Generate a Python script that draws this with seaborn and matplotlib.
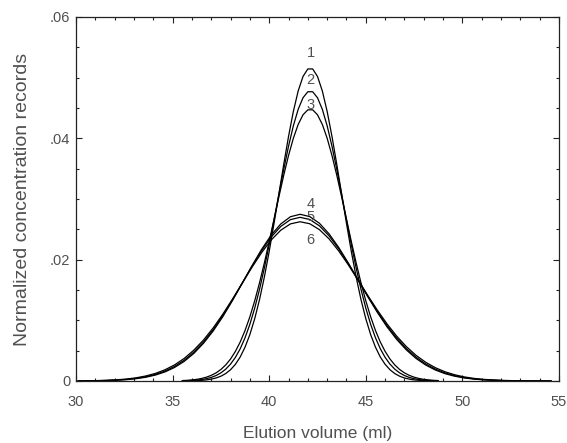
import matplotlib
matplotlib.use("Agg")
import matplotlib.pyplot as plt
from matplotlib.ticker import MultipleLocator, FixedLocator, FixedFormatter
import seaborn as sns
import pandas as pd

# ---------------- data ----------------
x_narrow = [35.5, 35.75, 36.0, 36.25, 36.5, 36.75, 37.0, 37.25, 37.5, 37.75,
            38.0, 38.25, 38.5, 38.75, 39.0, 39.25, 39.5, 39.75, 40.0, 40.25,
            40.5, 40.75, 41.0, 41.25, 41.5, 41.75, 42.0, 42.25, 42.5, 42.75,
            43.0, 43.25, 43.5, 43.75, 44.0, 44.25, 44.5, 44.75, 45.0, 45.25,
            45.5, 45.75, 46.0, 46.25, 46.5, 46.75, 47.0, 47.25, 47.5, 47.75,
            48.0, 48.25, 48.5, 48.75]

curve1 = [0.00001, 0.00002, 0.00003, 0.00006, 0.00011, 0.00018, 0.00031, 0.00050, 0.00079, 0.00123,
          0.00186, 0.00275, 0.00396, 0.00558, 0.00766, 0.01027, 0.01343, 0.01715, 0.02136, 0.02597,
          0.03081, 0.03567, 0.04030, 0.04443, 0.04781, 0.05020, 0.05144, 0.05144, 0.05020, 0.04781,
          0.04443, 0.04030, 0.03567, 0.03081, 0.02597, 0.02136, 0.01715, 0.01343, 0.01027, 0.00766,
          0.00558, 0.00396, 0.00275, 0.00186, 0.00123, 0.00079, 0.00050, 0.00031, 0.00018, 0.00011,
          0.00006, 0.00003, 0.00002, 0.00001]

curve2 = [0.00003, 0.00005, 0.00009, 0.00015, 0.00024, 0.00038, 0.00059, 0.00090, 0.00134, 0.00195,
          0.00279, 0.00389, 0.00532, 0.00713, 0.00935, 0.01202, 0.01512, 0.01863, 0.02248, 0.02657,
          0.03075, 0.03485, 0.03869, 0.04206, 0.04478, 0.04669, 0.04768, 0.04768, 0.04669, 0.04478,
          0.04206, 0.03869, 0.03485, 0.03075, 0.02657, 0.02248, 0.01863, 0.01512, 0.01202, 0.00935,
          0.00713, 0.00532, 0.00389, 0.00279, 0.00195, 0.00134, 0.00090, 0.00059, 0.00038, 0.00024,
          0.00015, 0.00009, 0.00005, 0.00003]

curve3 = [0.00007, 0.00011, 0.00018, 0.00027, 0.00042, 0.00063, 0.00093, 0.00134, 0.00190, 0.00265,
          0.00363, 0.00488, 0.00643, 0.00833, 0.01059, 0.01322, 0.01619, 0.01948, 0.02300, 0.02666,
          0.03033, 0.03389, 0.03716, 0.04001, 0.04229, 0.04388, 0.04470, 0.04470, 0.04388, 0.04229,
          0.04001, 0.03716, 0.03389, 0.03033, 0.02666, 0.02300, 0.01948, 0.01619, 0.01322, 0.01059,
          0.00833, 0.00643, 0.00488, 0.00363, 0.00265, 0.00190, 0.00134, 0.00093, 0.00063, 0.00042,
          0.00027, 0.00018, 0.00011, 0.00007]

x_wide = [30.1, 30.6, 31.1, 31.6, 32.1, 32.6, 33.1, 33.6, 34.1, 34.6,
          35.1, 35.6, 36.1, 36.6, 37.1, 37.6, 38.1, 38.6, 39.1, 39.6,
          40.1, 40.6, 41.1, 41.6, 42.1, 42.6, 43.1, 43.6, 44.1, 44.6,
          45.1, 45.6, 46.1, 46.6, 47.1, 47.6, 48.1, 48.6, 49.1, 49.6,
          50.1, 50.6, 51.1, 51.6, 52.1, 52.6, 53.1, 53.6, 54.1, 54.6]

curve4 = [0.00001, 0.00002, 0.00004, 0.00007, 0.00013, 0.00022, 0.00038, 0.00061, 0.00097, 0.00149,
          0.00223, 0.00323, 0.00455, 0.00622, 0.00824, 0.01061, 0.01327, 0.01609, 0.01895, 0.02166,
          0.02404, 0.02589, 0.02708, 0.02748, 0.02710, 0.02600, 0.02425, 0.02200, 0.01942, 0.01667,
          0.01391, 0.01130, 0.00892, 0.00685, 0.00512, 0.00372, 0.00263, 0.00181, 0.00121, 0.00079,
          0.00050, 0.00031, 0.00018, 0.00011, 0.00006, 0.00003, 0.00002, 0.00001, 0.00001, 0.00000]

curve5 = [0.00001, 0.00003, 0.00005, 0.00009, 0.00015, 0.00026, 0.00043, 0.00069, 0.00108, 0.00163,
          0.00240, 0.00343, 0.00477, 0.00644, 0.00846, 0.01079, 0.01337, 0.01611, 0.01886, 0.02145,
          0.02372, 0.02548, 0.02660, 0.02698, 0.02662, 0.02557, 0.02392, 0.02178, 0.01931, 0.01666,
          0.01400, 0.01146, 0.00912, 0.00708, 0.00534, 0.00393, 0.00281, 0.00196, 0.00133, 0.00088,
          0.00056, 0.00035, 0.00022, 0.00013, 0.00007, 0.00004, 0.00002, 0.00001, 0.00001, 0.00000]

curve6 = [0.00002, 0.00004, 0.00007, 0.00012, 0.00020, 0.00032, 0.00052, 0.00082, 0.00124, 0.00184,
          0.00265, 0.00372, 0.00509, 0.00676, 0.00875, 0.01102, 0.01351, 0.01611, 0.01870, 0.02113,
          0.02323, 0.02486, 0.02590, 0.02625, 0.02592, 0.02495, 0.02342, 0.02143, 0.01912, 0.01664,
          0.01411, 0.01167, 0.00941, 0.00739, 0.00567, 0.00423, 0.00309, 0.00219, 0.00152, 0.00103,
          0.00067, 0.00043, 0.00027, 0.00017, 0.00010, 0.00006, 0.00003, 0.00002, 0.00001, 0.00001]

curve_names = ["1", "2", "3", "4", "5", "6"]
label_x = [42.15, 42.15, 42.15, 42.15, 42.15, 42.15]
label_y = [0.0541, 0.0496, 0.0455, 0.0292, 0.0271, 0.0232]

x_ticks = [30, 35, 40, 45, 50, 55]
x_tick_labels = ["30", "35", "40", "45", "50", "55"]
y_ticks = [0, 0.02, 0.04, 0.06]
y_tick_labels = ["0", ".02", ".04", ".06"]
x_label = "Elution volume (ml)"
y_label = "Normalized concentration records"

# ---------------- build long table ----------------
rows = []
for name, xs, ys in [("1", x_narrow, curve1), ("2", x_narrow, curve2), ("3", x_narrow, curve3),
                     ("4", x_wide, curve4), ("5", x_wide, curve5), ("6", x_wide, curve6)]:
    for xv, yv in zip(xs, ys):
        rows.append({"curve": name, "x": xv, "y": yv})
df = pd.DataFrame(rows)

# ---------------- plot ----------------
sns.set_theme(style="ticks")
plt.rcParams["font.family"] = ["Liberation Sans", "DejaVu Sans"]
text_color = "#505050"

fig = plt.figure(figsize=(5.67, 4.43), dpi=100)
ax = fig.add_axes([76 / 567, 1 - 381 / 443, (559 - 76) / 567, (381 - 17) / 443])

sns.lineplot(data=df, x="x", y="y", units="curve", estimator=None, sort=True,
             color="black", linewidth=0.9, ax=ax, legend=False)

for name, lx, ly in zip(curve_names, label_x, label_y):
    ax.text(lx, ly, name, ha="center", va="center", fontsize=10.5, color=text_color)

ax.set_xlim(30, 55)
ax.set_ylim(0, 0.06)
ax.xaxis.set_major_locator(FixedLocator(x_ticks))
ax.xaxis.set_major_formatter(FixedFormatter(x_tick_labels))
ax.xaxis.set_minor_locator(MultipleLocator(1))
ax.yaxis.set_major_locator(FixedLocator(y_ticks))
ax.yaxis.set_major_formatter(FixedFormatter(y_tick_labels))
ax.yaxis.set_minor_locator(MultipleLocator(0.005))

ax.tick_params(which="both", direction="in", top=True, right=True, color="#222222",
               labelsize=10.5, labelcolor=text_color, width=0.8)
ax.tick_params(which="major", length=4)
ax.tick_params(which="minor", length=2.5)
ax.tick_params(axis="x", which="major", pad=10)
ax.tick_params(axis="y", which="major", pad=4)

for sp in ax.spines.values():
    sp.set_visible(True)
    sp.set_linewidth(0.9)
    sp.set_color("#222222")

ax.set_xlabel(x_label, fontsize=12.5, color=text_color, labelpad=12)
ax.set_ylabel(y_label, fontsize=14, color=text_color, labelpad=14)

fig.savefig("out.png", dpi=100)
